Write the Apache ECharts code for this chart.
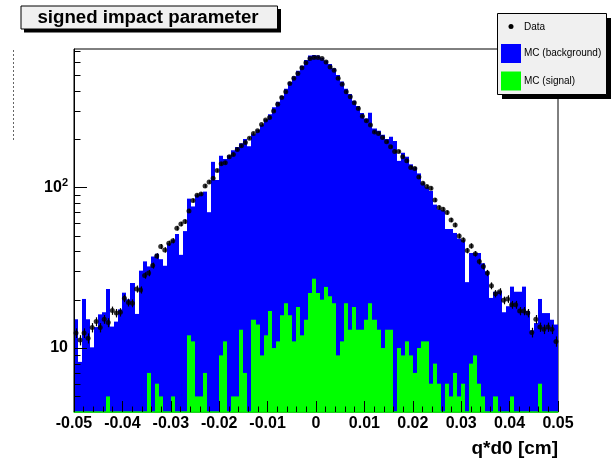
<!DOCTYPE html>
<html>
<head>
<meta charset="utf-8">
<script src="https://cdn.jsdelivr.net/npm/echarts@6/dist/echarts.min.js"></script>
<style>
    html, body { margin: 0; padding: 0; background: #fff; }
    #chart { width: 615px; height: 464px; }
</style>
</head>
<body>
<div id="chart"></div>
<script>
// histogram binning of q*d0
var xMin = -0.05, xMax = 0.05, nBins = 120;
var yMin = 4, yMax = 725;

var xTickLabels = ['-0.05', '-0.04', '-0.03', '-0.02', '-0.01', '0', '0.01', '0.02', '0.03', '0.04', '0.05'];
var yLabelValues = [10, 100];
var yLabelTexts = ['10', '10{sup|2}'];
var yMinorTicks = [5, 6, 7, 8, 9, 20, 30, 40, 50, 60, 70, 80, 90, 200, 300, 400, 500, 600, 700];

var seriesNames = ['Data', 'MC (background)', 'MC (signal)'];

// data points (one per bin)
var dataCounts = [
    12.4, 11.2, 12.4, 11.5, 13.4, 14.6, 13.4, 15.1, 14.4, 17.1,
    16.5, 16.7, 20.4, 19.2, 19.0, 23.3, 23.0, 28.3, 29.3, 32.6,
    37.4, 42.8, 40.8, 44.9, 46.5, 55.7, 59.1, 61.2, 71.3, 82.7,
    89.2, 90.9, 102, 108, 114, 127, 140, 142, 155, 160,
    172, 181, 190, 202, 216, 225, 246, 262, 272, 298,
    329, 362, 393, 442, 476, 511, 555, 595, 632, 642,
    642, 632, 602, 561, 535, 476, 438, 393, 366, 336,
    309, 277, 259, 244, 221, 216, 204, 192, 179, 167,
    167, 155, 146, 133, 131, 116, 106, 101, 98.6, 83.4,
    74.8, 73.0, 69.6, 62.6, 58.3, 49.8, 47.0, 40.4, 43.2, 38.6,
    34.5, 32.2, 29.3, 24.4, 21.8, 22.4, 19.8, 20.2, 18.6, 18.6,
    17.0, 17.0, 16.5, 12.5, 15.1, 13.5, 13.1, 13.5, 13.1, 11.0
];

// MC background (blue)
var mcBackground = [
    15.1, 8.2, 20.2, 15.1, 10.1, 13.5, 16.2, 16.7, 23.3, 13.6,
    14.6, 17.4, 22.1, 20.1, 25.4, 16.3, 30.3, 34.6, 32.2, 37.1,
    38.6, 35.7, 32.5, 44.9, 47.0, 51.2, 38.0, 53.4, 85, 76,
    90, 92, 94, 70, 144, 111, 157, 150, 158, 170,
    178, 188, 200, 180, 214, 228, 245, 265, 285, 315,
    340, 370, 410, 452, 490, 530, 570, 620, 660, 665,
    660, 640, 615, 585, 550, 500, 455, 410, 380, 345,
    320, 290, 268, 291, 232, 225, 212, 200, 206, 194,
    146, 164, 155, 139, 133, 122, 107, 100, 95, 78,
    73, 72, 55, 55, 52, 48, 47, 25.7, 39, 39,
    39, 33.7, 30, 20.5, 22.4, 22.6, 16.7, 18.2, 24.1, 22.4,
    22.4, 24.1, 17, 12.9, 14.3, 20.2, 16.5, 16.5, 15, 14
];

// MC signal (green)
var mcSignal = [
    0, 0, 0, 0, 0, 0, 0, 0, 5, 0,
    0, 0, 0, 0, 0, 0, 0, 0, 7, 0,
    6, 5, 0, 0, 5, 0, 0, 0, 12, 11,
    5, 5, 7, 0, 0, 0, 9, 11, 0, 5,
    5, 13, 7, 0, 15, 14, 9, 12, 17, 10,
    11, 16, 19, 16, 11, 18, 12, 15, 22, 27,
    22, 20, 24, 21, 19, 9, 11, 19, 13, 18,
    13, 13, 15, 19, 15, 13, 10, 13, 13, 0,
    10, 9, 11, 9, 7, 10, 11, 11, 6, 8,
    6, 0, 6, 5, 7, 5, 6, 0, 8, 9,
    6, 5, 0, 0, 5, 0, 0, 0, 5, 0,
    0, 0, 0, 0, 0, 6, 0, 0, 0, 0
];

// weight of one data event, used for the error bars
var eventWeight = 0.06;

var FONT = 'Liberation Sans, Arial, Helvetica, sans-serif';
var binWidth = (xMax - xMin) / nBins;

function histData(values) {
    return values.map(function (v, i) {
        return [xMin + i * binWidth, xMin + (i + 1) * binWidth, v > 0 ? v : '-'];
    });
}

function histItem(params, api) {
    var v = api.value(2);
    if (!(v > 0)) return null;
    var p0 = api.coord([api.value(0), v]);
    var p1 = api.coord([api.value(1), yMin]);
    var x0 = Math.round(p0[0]), x1 = Math.round(p1[0]);
    var cs = params.coordSys;
    var rect = echarts.graphic.clipRectByRect(
        { x: x0, y: p0[1], width: x1 - x0, height: p1[1] - p0[1] },
        { x: cs.x, y: cs.y, width: cs.width, height: cs.height }
    );
    if (!rect) return null;
    return { type: 'rect', shape: rect, style: { fill: api.visual('color') } };
}

function errItem(params, api) {
    var x = api.value(0), v = api.value(1);
    var e = Math.sqrt(v * eventWeight);
    var lo = api.coord([x, v - e]), hi = api.coord([x, v + e]);
    var px = Math.round(lo[0]) + 0.5;
    return {
        type: 'line',
        shape: { x1: px, y1: lo[1], x2: px, y2: hi[1] },
        style: { stroke: '#000', lineWidth: 1.2 }
    };
}

function yTickItem(params, api) {
    var v = api.value(1), len = api.value(2);
    var p = api.coord([xMin, v]);
    var y = Math.round(p[1]) + 0.5;
    return {
        type: 'line',
        shape: { x1: p[0], y1: y, x2: p[0] + len, y2: y },
        style: { stroke: '#000', lineWidth: 1 }
    };
}

var pointData = dataCounts.map(function (v, i) {
    return [xMin + (i + 0.5) * binWidth, v];
});

var yTickData = yLabelValues.map(function (v) { return [xMin, v, 13]; })
    .concat(yMinorTicks.map(function (v) { return [xMin, v, 6.5]; }));

var chart = echarts.init(document.getElementById('chart'));

chart.setOption({
    animation: false,
    backgroundColor: '#fff',
    grid: {
        left: 74, top: 49, width: 484, height: 363,
        show: true, borderColor: '#000', borderWidth: 1,
        backgroundColor: 'transparent'
    },
    xAxis: {
        type: 'value',
        min: xMin, max: xMax, interval: 0.01,
        z: 10,
        axisLine: { onZero: false, lineStyle: { color: '#00ee00', width: 1.5 } },
        axisTick: { inside: true, length: 11, lineStyle: { color: '#000' } },
        minorTick: { show: true, splitNumber: 5, length: 5.5, lineStyle: { color: '#000' } },
        splitLine: { show: false },
        axisLabel: {
            margin: 4,
            showMinLabel: true, showMaxLabel: true,
            color: '#000', fontFamily: FONT, fontWeight: 'bold', fontSize: 16,
            formatter: function (v) {
                return xTickLabels[Math.round((v - xMin) / 0.01)];
            }
        }
    },
    yAxis: {
        type: 'log', logBase: 10,
        min: yMin, max: yMax,
        z: 10,
        axisLine: { show: true, onZero: false, lineStyle: { color: '#000', width: 1 } },
        axisTick: { show: false },
        splitLine: { show: false },
        axisLabel: {
            margin: 6,
            color: '#000', fontFamily: FONT, fontWeight: 'bold', fontSize: 16,
            formatter: function (v) {
                for (var k = 0; k < yLabelValues.length; k++) {
                    if (Math.abs(v - yLabelValues[k]) < 1e-6 * yLabelValues[k]) return yLabelTexts[k];
                }
                return '';
            },
            rich: {
                sup: { fontFamily: FONT, fontWeight: 'bold', fontSize: 11, color: '#000', verticalAlign: 'top', padding: [0, 0, 9, 0] }
            }
        }
    },
    series: [
        {
            name: seriesNames[1], type: 'custom', renderItem: histItem,
            itemStyle: { color: '#0000ff' },
            encode: { x: [0, 1], y: 2 },
            data: histData(mcBackground), z: 2
        },
        {
            name: seriesNames[2], type: 'custom', renderItem: histItem,
            itemStyle: { color: '#00ff00' },
            encode: { x: [0, 1], y: 2 },
            data: histData(mcSignal), z: 3
        },
        {
            name: 'errors', type: 'custom', renderItem: errItem,
            encode: { x: 0, y: 1 },
            data: pointData, z: 4
        },
        {
            name: seriesNames[0], type: 'scatter',
            symbol: 'circle', symbolSize: 5,
            itemStyle: { color: '#000' },
            data: pointData, z: 5
        },
        {
            name: 'yticks', type: 'custom', renderItem: yTickItem,
            encode: { x: 0, y: 1 },
            data: yTickData, z: 11
        }
    ],
    graphic: [
        // stray y title trace on the left
        {
            type: 'line', z: 20,
            shape: { x1: 13.5, y1: 50, x2: 13.5, y2: 140 },
            style: { stroke: '#666', lineWidth: 1, lineDash: [2, 2] }
        },
        // title box
        { type: 'rect', z: 20, shape: { x: 24, y: 9, width: 257, height: 23.5 }, style: { fill: '#000' } },
        { type: 'rect', z: 21, shape: { x: 21, y: 6, width: 256.5, height: 23 }, style: { fill: '#f0f0f0', stroke: '#000', lineWidth: 1 } },
        {
            type: 'text', z: 22, x: 148, y: 18,
            style: { text: 'signed impact parameter', font: 'bold 18.7px ' + FONT, fill: '#000', align: 'center', verticalAlign: 'middle' }
        },
        // legend box
        { type: 'rect', z: 20, shape: { x: 502, y: 18, width: 109, height: 81 }, style: { fill: '#000' } },
        { type: 'rect', z: 21, shape: { x: 497.5, y: 13.5, width: 109, height: 81 }, style: { fill: '#f0f0f0', stroke: '#000', lineWidth: 1 } },
        { type: 'circle', z: 22, shape: { cx: 511, cy: 26.5, r: 2.5 }, style: { fill: '#000' } },
        { type: 'text', z: 22, x: 524, y: 27, style: { text: seriesNames[0], font: '10px ' + FONT, fill: '#000', verticalAlign: 'middle' } },
        { type: 'rect', z: 22, shape: { x: 501, y: 44, width: 20, height: 19 }, style: { fill: '#0000ff' } },
        { type: 'text', z: 22, x: 524, y: 53.5, style: { text: seriesNames[1], font: '10px ' + FONT, fill: '#000', verticalAlign: 'middle' } },
        { type: 'rect', z: 22, shape: { x: 501, y: 71.5, width: 20, height: 19 }, style: { fill: '#00ff00' } },
        { type: 'text', z: 22, x: 524, y: 81, style: { text: seriesNames[2], font: '10px ' + FONT, fill: '#000', verticalAlign: 'middle' } },
        // x axis title
        {
            type: 'text', z: 20, x: 558, y: 449,
            style: { text: 'q*d0 [cm]', font: 'bold 19px ' + FONT, fill: '#000', align: 'right', verticalAlign: 'middle' }
        }
    ]
});
</script>
</body>
</html>
